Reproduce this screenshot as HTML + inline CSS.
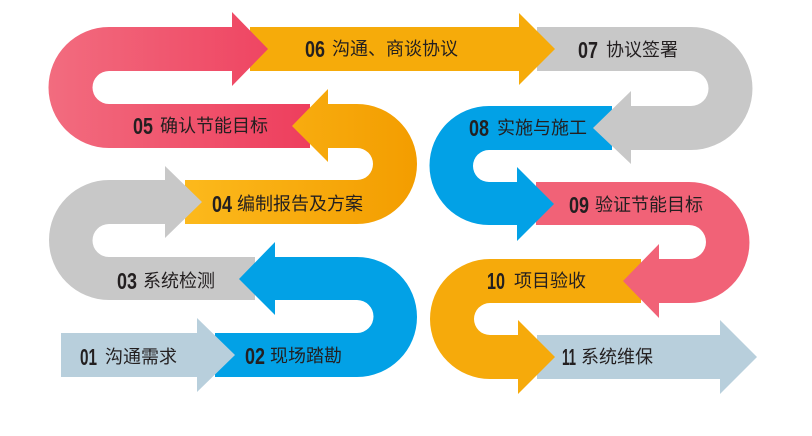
<!DOCTYPE html>
<html><head><meta charset="utf-8"><style>
html,body{margin:0;padding:0;background:#fff;}
svg{display:block;}
.t{font-family:"Liberation Sans","Noto Sans CJK SC",sans-serif;font-size:18px;fill:#231f20;}
.n{font-family:"Liberation Sans",sans-serif;font-weight:bold;font-size:23px;fill:#231f20;}
</style></head><body>
<svg width="812" height="436" viewBox="0 0 812 436" xmlns="http://www.w3.org/2000/svg">
<defs>
<linearGradient id="pk" x1="0" x2="1" y1="0" y2="0"><stop offset="0" stop-color="#f26c7f"/><stop offset="1" stop-color="#ee3e5d"/></linearGradient>
<linearGradient id="og" x1="0" x2="1" y1="0" y2="0"><stop offset="0" stop-color="#fcb91c"/><stop offset="1" stop-color="#f39d00"/></linearGradient>
</defs>
<path d="M537 335 H720 V320 L757 357 L720 394 V379 H537 Z" fill="#b8cfdc"/>
<path d="M641 259 H490 A60 60 0 0 0 490 379 H518 V394 L555 357 L518 320 V335 H490 A16 16 0 0 1 490 303 H641 Z" fill="#f6aa0b"/>
<path d="M536 182 H689 A60.5 60.5 0 0 1 689 303 H659 V318 L623 281 L659 244 V259 H689 A17 17 0 0 0 689 225 H536 Z" fill="#f16277"/>
<path d="M612 106 H489 A59.5 59.5 0 0 0 489 225 H517 V241 L554 204 L517 167 V182 H489 A16 16 0 0 1 489 150 H612 Z" fill="#02a1e6"/>
<path d="M537 27 H691 A61.5 61.5 0 0 1 691 150 H631 V164 L593 128 L631 91 V106 H691 A17.5 17.5 0 0 0 691 71 H537 Z" fill="#c8c8c8"/>
<path d="M250 27 H519 V13 L555 49 L519 85 V71 H250 Z" fill="#f6ab0a"/>
<path d="M310 148 H109 A60.5 60.5 0 0 1 109 27 H232 V12 L268 49 L232 86 V71 H109 A16.5 16.5 0 0 0 109 104 H310 Z" fill="url(#pk)"/>
<path d="M185 224 H357 A60 60 0 0 0 357 104 H328 V89 L292 126 L328 162 V148 H357 A16 16 0 0 1 357 180 H185 Z" fill="url(#og)"/>
<path d="M255 300 H109 A60 60 0 0 1 109 180 H165 V166 L202 202 L165 238 V224 H109 A16.5 16.5 0 0 0 109 257 H255 Z" fill="#c8c8c8"/>
<path d="M215 377 H357 A60 60 0 0 0 357 257 H275 V242 L239 279 L275 315 V300 H357 A16.5 16.5 0 0 1 357 333 H215 Z" fill="#02a1e6"/>
<path d="M61 333 H197 V318 L235 355 L197 392 V377 H61 Z" fill="#b8cfdc"/>

<g dominant-baseline="central">
<text class="n" x="305" y="49" textLength="20" lengthAdjust="spacingAndGlyphs">06</text><text class="t" x="332" y="49">沟通、商谈协议</text>
<text class="n" x="578" y="50" textLength="20" lengthAdjust="spacingAndGlyphs">07</text><text class="t" x="606" y="50">协议签署</text>
<text class="n" x="133" y="126" textLength="20" lengthAdjust="spacingAndGlyphs">05</text><text class="t" x="160" y="126">确认节能目标</text>
<text class="n" x="469" y="128" textLength="20" lengthAdjust="spacingAndGlyphs">08</text><text class="t" x="497" y="128">实施与施工</text>
<text class="n" x="212" y="204" textLength="20" lengthAdjust="spacingAndGlyphs">04</text><text class="t" x="237" y="204">编制报告及方案</text>
<text class="n" x="569" y="205" textLength="20" lengthAdjust="spacingAndGlyphs">09</text><text class="t" x="595" y="205">验证节能目标</text>
<text class="n" x="117" y="281" textLength="20" lengthAdjust="spacingAndGlyphs">03</text><text class="t" x="143" y="281">系统检测</text>
<text class="n" x="487" y="281" textLength="18" lengthAdjust="spacingAndGlyphs">10</text><text class="t" x="514" y="281">项目验收</text>
<text class="n" x="80" y="357" textLength="17" lengthAdjust="spacingAndGlyphs">01</text><text class="t" x="105" y="357">沟通需求</text>
<text class="n" x="245" y="356" textLength="20" lengthAdjust="spacingAndGlyphs">02</text><text class="t" x="270" y="356">现场踏勘</text>
<text class="n" x="562" y="357" textLength="14" lengthAdjust="spacingAndGlyphs">11</text><text class="t" x="581" y="357">系统维保</text>
</g>
</svg>
</body></html>
